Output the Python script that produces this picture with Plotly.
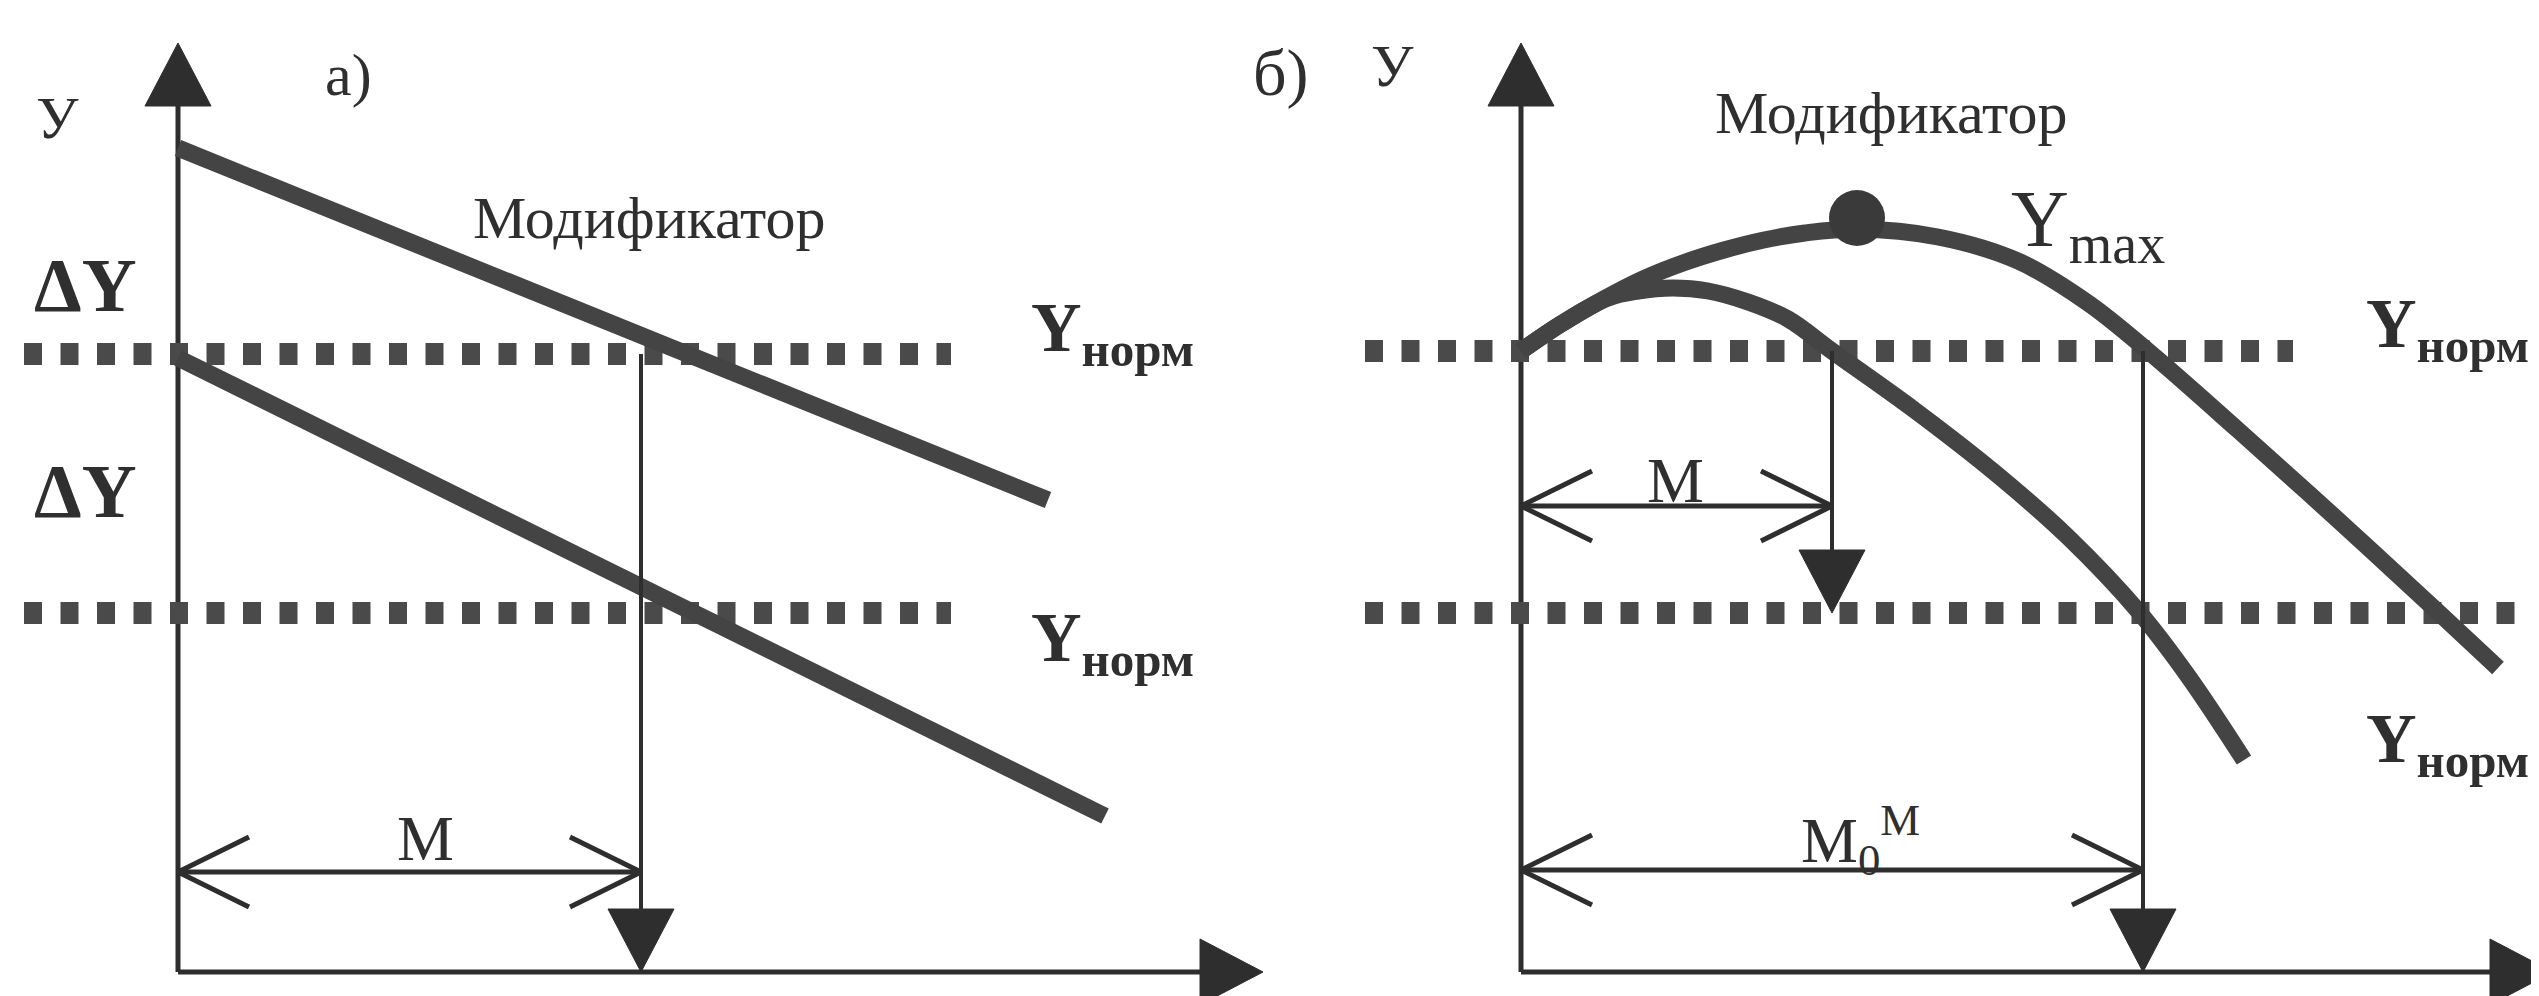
import plotly.graph_objects as go

# Diagram units: 1 unit = 100 px on both axes, origin where the two axes of a panel cross.

# ---- panel а) : linear dependence, modifier shifts the line up by ΔY
a_mod_x = [0, 8.70]
a_mod_y = [8.24, 4.72]
a_base_x = [0, 9.27]
a_base_y = [6.14, 1.56]
a_norm_levels = [6.18, 3.59]
a_norm_span = [-1.54, 7.73]
a_m = 4.63            # M on the x axis
a_m_arrow_y = 1.00    # height of the M double arrow

# ---- panel б) : curves with a maximum
b_outer_x = [0, 0.40, 0.81, 1.22, 1.62, 2.03, 2.43, 2.84, 3.36, 4.17, 4.97, 5.67, 6.27, 7.17, 8.17, 9.17, 9.77]
b_outer_y = [6.21, 6.48, 6.72, 6.93, 7.09, 7.22, 7.32, 7.39, 7.43, 7.35, 7.11, 6.69, 6.21, 5.42, 4.52, 3.60, 3.04]
b_inner_x = [0, 0.40, 0.87, 1.17, 1.52, 1.87, 2.27, 2.67, 3.11, 3.92, 4.73, 5.47, 6.18, 6.67, 7.23]
b_inner_y = [6.21, 6.48, 6.74, 6.81, 6.84, 6.81, 6.70, 6.53, 6.21, 5.63, 5.00, 4.35, 3.60, 2.96, 2.12]
b_ymax = [3.36, 7.54]
b_norm_levels = [6.21, 3.59]
b_norm_spans = [[-1.56, 7.72], [-1.56, 10.4]]
b_m = 3.11
b_m0 = 6.22
b_m_arrow_y = 4.66
b_m0_arrow_y = 1.02

axis_top = 9.29
a_axis_right = 10.85
b_axis_right = 10.32

THICK = '#444444'
THIN = '#2e2e2e'
DOTS = '#4a4a4a'
TXT = '#2f2f2f'
SERIF = 'Liberation Serif'

HEAD_W, HEAD_L = 0.33, 0.63     # filled arrow heads
CHEV_L, CHEV_H = 0.71, 0.35     # open heads of the double arrows

fig = go.Figure()
refs = {1: ('x', 'y'), 2: ('x2', 'y2')}


def line(xs, ys, panel, width, color, dash=None, shape='linear'):
    xr, yr = refs[panel]
    ln = dict(color=color, width=width, dash=dash, shape=shape)
    if shape == 'spline':
        ln['smoothing'] = 1.0
    fig.add_trace(go.Scatter(x=xs, y=ys, xaxis=xr, yaxis=yr, mode='lines', hoverinfo='skip', line=ln))


def head(xs, ys, panel):
    xr, yr = refs[panel]
    fig.add_trace(go.Scatter(x=xs, y=ys, xaxis=xr, yaxis=yr, mode='lines', fill='toself',
                             fillcolor=THIN, line=dict(color=THIN, width=1), hoverinfo='skip'))


def head_up(x, tip, panel):
    head([x - HEAD_W, x, x + HEAD_W, x - HEAD_W], [tip - HEAD_L, tip, tip - HEAD_L, tip - HEAD_L], panel)


def head_down(x, tip, panel):
    head([x - HEAD_W, x, x + HEAD_W, x - HEAD_W], [tip + HEAD_L, tip, tip + HEAD_L, tip + HEAD_L], panel)


def head_right(tip, y, panel):
    head([tip - HEAD_L, tip, tip - HEAD_L, tip - HEAD_L], [y - HEAD_W, y, y + HEAD_W, y - HEAD_W], panel)


def axes(right, panel):
    line([0, 0], [0, axis_top - HEAD_L + 0.05], panel, 5, THIN)
    head_up(0, axis_top, panel)
    line([0, right - HEAD_L + 0.05], [0, 0], panel, 5, THIN)
    head_right(right, 0, panel)


def drop(x, y_from, y_to, panel):
    line([x, x], [y_from, y_to + HEAD_L - 0.05], panel, 4, THIN)
    head_down(x, y_to, panel)


def span_arrow(x_end, y, panel):
    line([0, x_end], [y, y], panel, 5, THIN)
    line([CHEV_L, 0, CHEV_L], [y + CHEV_H, y, y - CHEV_H], panel, 5, THIN)
    line([x_end - CHEV_L, x_end, x_end - CHEV_L], [y + CHEV_H, y, y - CHEV_H], panel, 5, THIN)


def norm_line(span, level, panel):
    line(span, [level, level], panel, 22, DOTS, dash='18px,18.5px')


# panel а
axes(a_axis_right, 1)
for lvl in a_norm_levels:
    norm_line(a_norm_span, lvl, 1)
line(a_mod_x, a_mod_y, 1, 17, THICK)
line(a_base_x, a_base_y, 1, 17, THICK)
drop(a_m, a_norm_levels[0], 0, 1)
span_arrow(a_m, a_m_arrow_y, 1)

# panel б
axes(b_axis_right, 2)
norm_line(b_norm_spans[0], b_norm_levels[0], 2)
norm_line(b_norm_spans[1], b_norm_levels[1], 2)
line(b_outer_x, b_outer_y, 2, 17, THICK, shape='spline')
line(b_inner_x, b_inner_y, 2, 17, THICK, shape='spline')
fig.add_trace(go.Scatter(x=[b_ymax[0]], y=[b_ymax[1]], xaxis='x2', yaxis='y2', mode='markers',
                         marker=dict(size=56, color='#3a3a3a'), hoverinfo='skip'))
drop(b_m, b_norm_levels[0], b_norm_levels[1], 2)
drop(b_m0, b_norm_levels[0], 0, 2)
span_arrow(b_m, b_m_arrow_y, 2)
span_arrow(b_m0, b_m0_arrow_y, 2)


def label(text, x, y, panel, size, xanchor='center'):
    xr, yr = refs[panel]
    fig.add_annotation(text=text, x=x, y=y, xref=xr, yref=yr, showarrow=False,
                       xanchor=xanchor, yanchor='middle', borderpad=0,
                       font=dict(family=SERIF, size=size, color=TXT))


norm_txt = '<b>Y</b><sub><b>норм</b></sub>'

label('У', -1.21, 8.54, 1, 60)
label('а)', 1.70, 8.97, 1, 60)
label('Модификатор', 4.71, 7.54, 1, 60)
label('<b>ΔY</b>', -0.93, 6.87, 1, 76)
label('<b>ΔY</b>', -0.93, 4.81, 1, 76)
label(norm_txt, 8.52, 6.39, 1, 70, 'left')
label(norm_txt, 8.52, 3.29, 1, 70, 'left')
label('M', 2.47, 1.34, 1, 64)

label('б)', -2.40, 8.99, 2, 66)
label('У', -1.29, 9.06, 2, 60)
label('Модификатор', 3.70, 8.59, 2, 60)
label('Y<sub>max</sub>', 4.89, 7.47, 2, 80, 'left')
label(norm_txt, 8.44, 6.43, 2, 70, 'left')
label(norm_txt, 8.44, 2.28, 2, 70, 'left')
label('M', 1.54, 4.92, 2, 64)
label('M<sub>0</sub><sup>M</sup>', 3.39, 1.32, 2, 64)

W, H = 2539, 996
split = 0.5
ax = dict(visible=False, fixedrange=True)
fig.update_layout(
    width=W, height=H, margin=dict(l=0, r=0, t=0, b=0),
    paper_bgcolor='white', plot_bgcolor='white', showlegend=False,
    xaxis=dict(ax, domain=[0, split], range=[-1.70, W * split / 100 - 1.70]),
    yaxis=dict(ax, domain=[0, 1], range=[-0.32, 9.64]),
    xaxis2=dict(ax, domain=[split, 1], anchor='y2', range=[-(15.13 - W * split / 100), (W - 1513) / 100]),
    yaxis2=dict(ax, domain=[0, 1], anchor='x2', range=[-0.32, 9.64]),
)

fig.write_html("out.html")
